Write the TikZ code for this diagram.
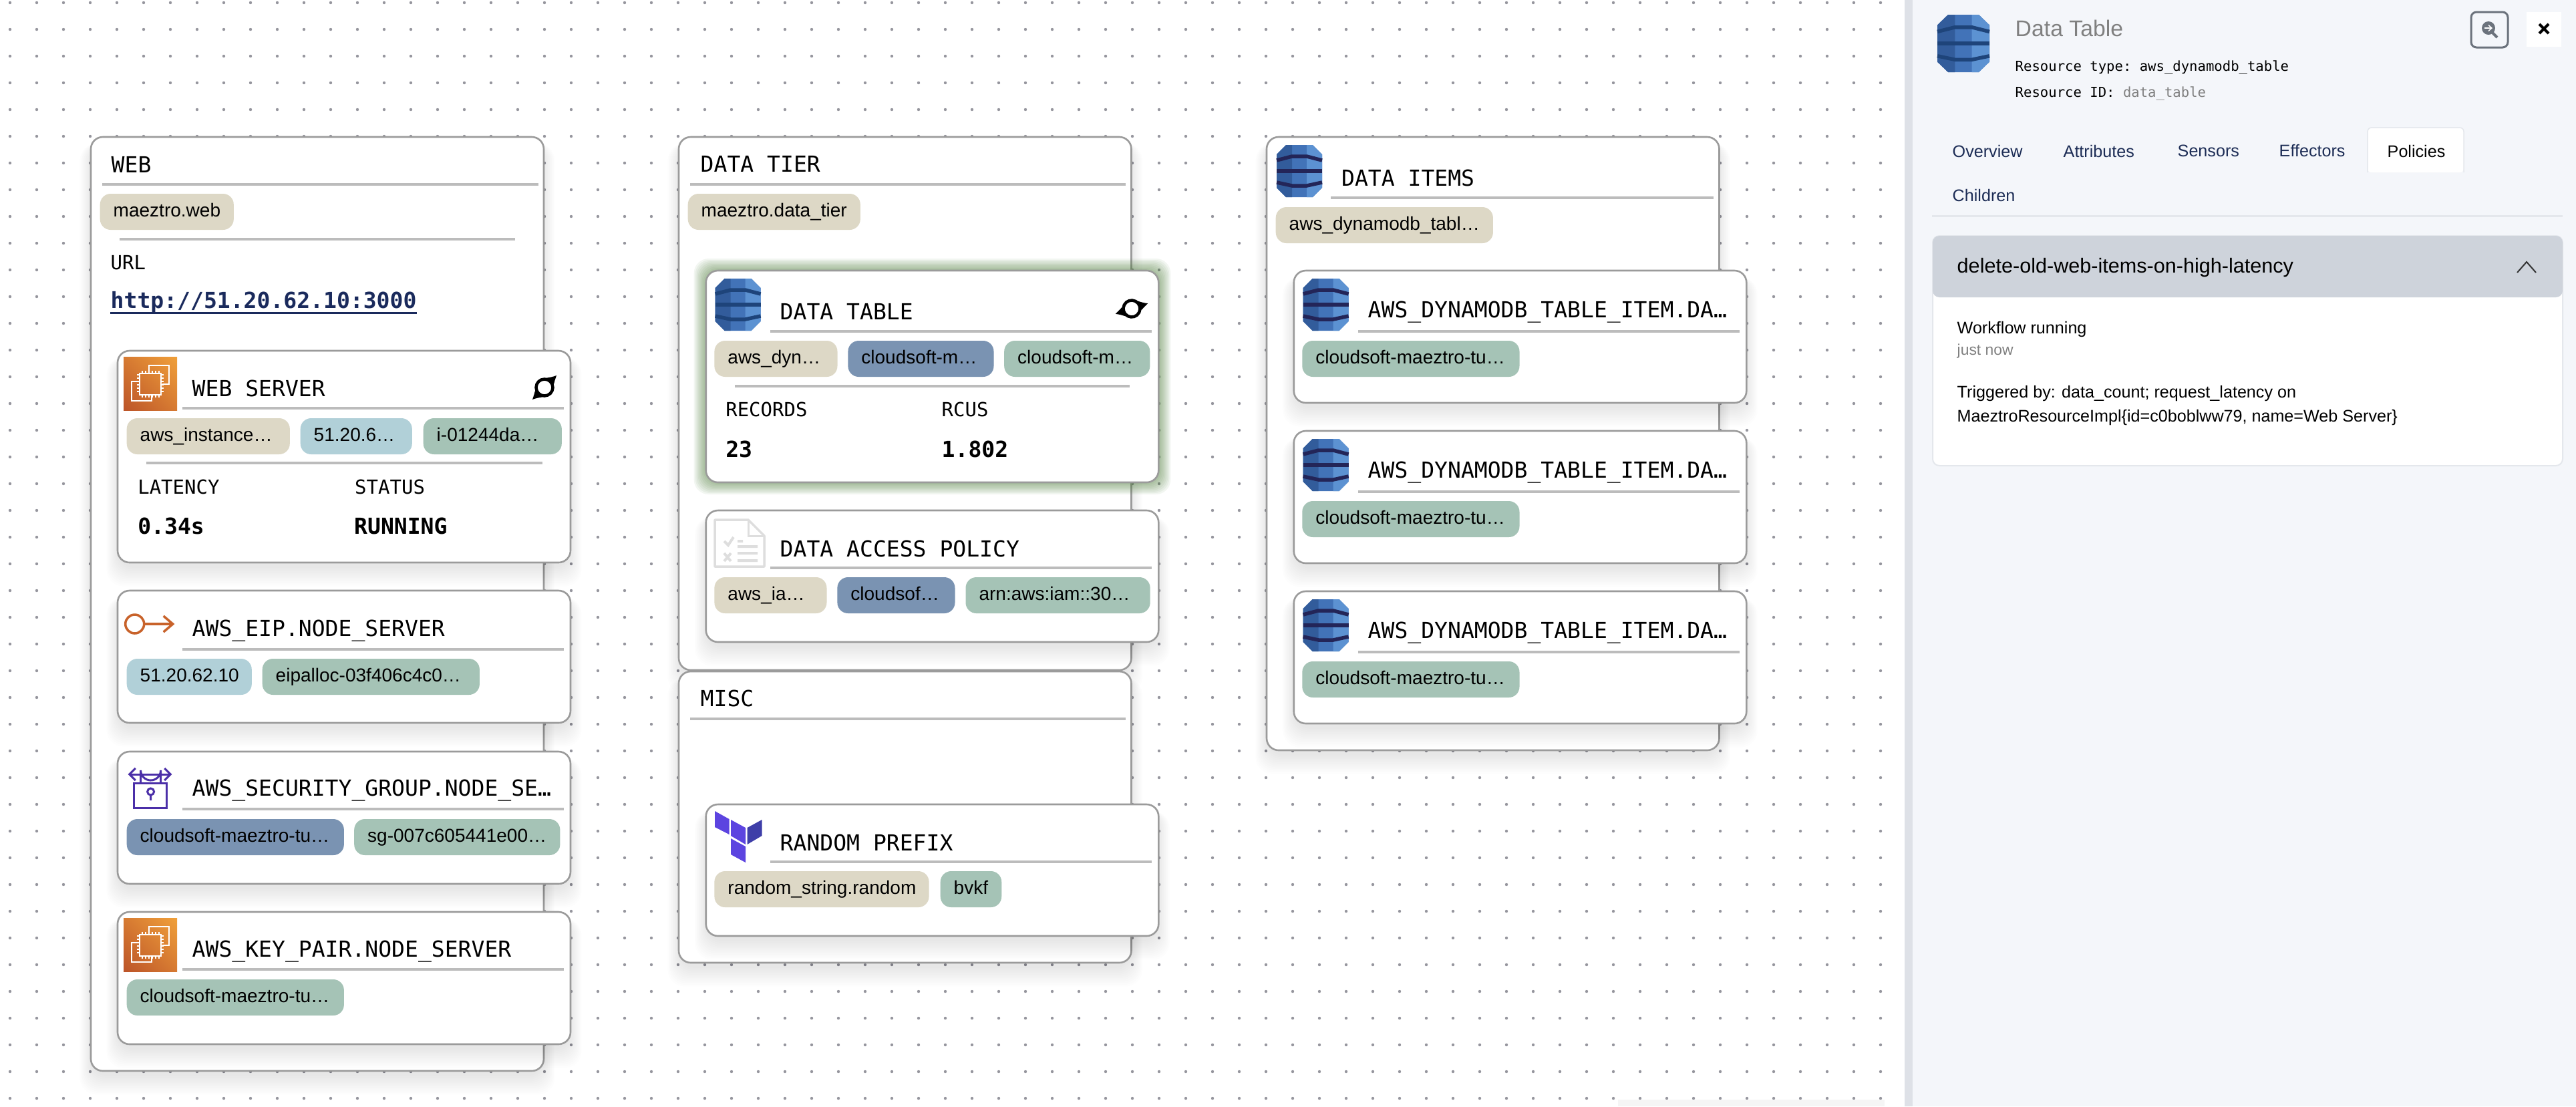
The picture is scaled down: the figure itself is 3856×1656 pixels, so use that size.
\documentclass[tikz,border=0pt]{standalone}
\usepackage{fontspec}
\setmainfont{Liberation Sans}
\setmonofont{DejaVu Sans Mono}
\usetikzlibrary{arrows.meta,calc,shadings}
\definecolor{ChipTan}{RGB}{221,216,198}
\definecolor{ChipBlue}{RGB}{177,208,216}
\definecolor{ChipSlate}{RGB}{122,147,178}
\definecolor{ChipGreen}{RGB}{165,195,182}
\definecolor{EdgeGray}{RGB}{155,155,155}
\definecolor{RuleGray}{RGB}{188,188,188}
\definecolor{DotGray}{RGB}{150,150,158}
\definecolor{PanelBg}{RGB}{244,246,250}
\definecolor{PanelStrip}{RGB}{222,225,231}
\definecolor{PanelHead}{RGB}{206,211,219}
\definecolor{PanelLine}{RGB}{228,231,236}
\definecolor{IconGray}{RGB}{107,114,124}
\definecolor{NavyText}{RGB}{28,44,85}
\definecolor{LinkNavy}{RGB}{26,42,92}
\definecolor{DbMid}{RGB}{66,115,184}
\definecolor{DbDark}{RGB}{50,92,155}
\definecolor{DbLight}{RGB}{92,146,210}
\definecolor{DbBand}{RGB}{35,37,88}
\definecolor{DbBandSoft}{RGB}{30,68,122}
\definecolor{KeyOrange}{RGB}{200,98,42}
\definecolor{LockPurple}{RGB}{75,47,168}
\definecolor{TfLight}{RGB}{92,68,224}
\definecolor{TfDark}{RGB}{62,62,168}
\definecolor{DocGray}{RGB}{222,222,222}
\definecolor{GlowGreen}{RGB}{70,120,50}
\definecolor{ChipRust}{RGB}{188,84,40}
\definecolor{ChipMid}{RGB}{214,122,50}
\definecolor{ChipAmber}{RGB}{240,160,58}
\tikzset{
  paneltitle/.style={anchor=west,inner sep=0pt,font=\ttfamily\fontsize{9.4}{11}\selectfont},
  smalllabel/.style={anchor=west,inner sep=0pt,font=\ttfamily\fontsize{8.25}{10}\selectfont},
  bigvalue/.style={anchor=west,inner sep=0pt,font=\ttfamily\bfseries\fontsize{9.4}{11}\selectfont},
  chip/.style={anchor=west,fill=#1,rounded corners=.16cm,inner xsep=.2cm,inner ysep=0pt,
    minimum height=.54cm,align=left,text height=.21cm,text depth=.06cm,
    font=\fontsize{7.97}{9.5}\selectfont},
  rule/.style={RuleGray,line width=.04cm},
  boxpanel/.style={draw=EdgeGray,fill=white,line width=.026cm,rounded corners=.18cm},
  sidetext/.style={anchor=west,inner sep=0pt,font=\fontsize{7.15}{9}\selectfont},
  sidemono/.style={anchor=west,inner sep=0pt,font=\ttfamily\fontsize{5.86}{7}\selectfont},
  pics/dbicon/.default=DbBand,
  pics/dbicon/.style={code={
    \fill[DbMid] (14,0) -- (54,0) -- (68,14) -- (68,64) -- (54,78) -- (14,78) -- (0,64) -- (0,14) -- cycle;
    \fill[DbDark] (14,0) -- (23,0) -- (23,78) -- (14,78) -- (0,64) -- (0,14) -- cycle;
    \fill[DbLight] (54,0) -- (45,0) -- (45,78) -- (54,78) -- (68,64) -- (68,14) -- cycle;
    \draw[#1,line width=.055cm] (0,23) -- (23,17) -- (45,17) -- (68,23);
    \draw[#1,line width=.055cm] (0,39) -- (68,39);
    \draw[#1,line width=.055cm] (0,56) -- (23,61) -- (45,61) -- (68,56);
  }},
  pics/ecicon/.style={code={
    \shade[lower left=ChipRust,upper right=ChipAmber,lower right=ChipMid,upper left=ChipMid] (0,0) rectangle (80,80);
    \draw[white,line width=.022cm] (38,23) -- (38,13) -- (68,13) -- (68,41) -- (58,41);
    \draw[white,line width=.022cm] (22,37) -- (12,37) -- (12,66) -- (42,66) -- (42,58);
    \draw[white,line width=.022cm] (24,25) rectangle (56,57);
    \foreach \t in {28,33,38,43,48,53} {
      \draw[white,line width=.014cm] (\t,21) -- (\t,25) (\t,57) -- (\t,61);
      \draw[white,line width=.014cm] (20,\t-1) -- (24,\t-1) (56,\t-1) -- (60,\t-1);
    }
  }},
  pics/spinicon/.style={code={
    \draw[black,line width=.045cm] (0,0) circle (12.5);
    \fill[black] (-9,-11) .. controls (0,-15) and (8,-14) .. (18,-18) .. controls (16,-12) and (15,-9) .. (14,-5) -- (6,-10) -- cycle;
    \fill[black] (9,11) .. controls (0,15) and (-8,14) .. (-18,18) .. controls (-16,12) and (-15,9) .. (-14,5) -- (-6,10) -- cycle;
  }}
}
% soft shadow under a box, made of stacked translucent boxes
\newcommand{\softshadow}[4]{%
  \foreach \g in {1,...,12} {
    \fill[black,opacity=.009,rounded corners=.25cm]
      ($(#1,#2)+(-18+1.5*\g,10)$) rectangle ($(#3,#4)+(18-1.5*\g,38-2.5*\g)$);
  }
}
% green glow round the selected box
\newcommand{\softglow}[4]{%
  \foreach \g in {1,...,10} {
    \fill[GlowGreen,opacity=.065,rounded corners=.22cm]
      ($(#1,#2)+(-20+2*\g,-20+2*\g)$) rectangle ($(#3,#4)+(20-2*\g,20-2*\g)$);
  }
}
\begin{document}
\begin{tikzpicture}[x=.01cm,y=-.01cm,>=Latex]
  \useasboundingbox (0,0) rectangle (3856,1656);
  \fill[white] (0,0) rectangle (3856,1656);
  % dotted canvas
  \foreach \i in {0,...,70} {
    \foreach \j in {0,...,41} {
      \fill[DotGray] ({15+40*\i},{4+40*\j}) circle (2.2);
    }
  }
  \fill[black!4] (2422,1646) rectangle (2821,1656);

  % web column
  \softshadow{136}{205}{814}{1603}
  \draw[boxpanel] (136,205) rectangle (814,1603);
  \node[paneltitle] (webname) at (166,246) {WEB};
  \draw[rule] (153,276) -- (805.5,276);
  \node[chip=ChipTan,text width=1.60cm] (webtag) at (149,317) {maeztro.web};
  \draw[rule] (179,358) -- (770.6,358);
  \node[smalllabel] (urllabel) at (165,393) {URL};
  \node[bigvalue,LinkNavy] (urlvalue) at (165,452) {http://51.20.62.10:3000};
  \draw[LinkNavy,line width=.03cm] (165,468) -- (624,468);

  \softshadow{176}{525}{854}{842}
  \draw[boxpanel] (176,525) rectangle (854,842);
  \pic at (185,534) {ecicon};
  \node[paneltitle] (servername) at (287,581) {WEB SERVER};
  \pic at (815,580) {spinicon};
  \draw[rule] (273.4,611) -- (844.4,611);
  \node[chip=ChipTan,text width=2.04cm] (servertype) at (189,653) {aws\_instance…};
  \node[chip=ChipBlue,text width=1.27cm] (serverip) at (449,653) {51.20.6…};
  \node[chip=ChipGreen,text width=1.67cm] (serverid) at (633,653) {i-01244da…};
  \draw[rule] (218.6,693) -- (811.5,693);
  \node[smalllabel] (latencylabel) at (205.6,729) {LATENCY};
  \node[smalllabel] (statuslabel) at (530.5,729) {STATUS};
  \node[bigvalue] (latencyvalue) at (205.6,787) {0.34s};
  \node[bigvalue] (statusvalue) at (529.5,787) {RUNNING};

  \softshadow{176}{884}{854}{1082}
  \draw[boxpanel] (176,884) rectangle (854,1082);
  \draw[KeyOrange,line width=.035cm] (201.7,934) circle (14);
  \draw[KeyOrange,line width=.035cm,-{Straight Barb[length=.14cm,width=.24cm]}] (215.7,934) -- (261.4,934);
  \node[paneltitle] (eipname) at (287,944) {AWS\_EIP.NODE\_SERVER};
  \draw[rule] (273.4,972) -- (844.4,972);
  \node[chip=ChipBlue,text width=1.47cm] (eipaddr) at (189,1013) {51.20.62.10};
  \node[chip=ChipGreen,text width=2.85cm] (eipalloc) at (392,1013) {eipalloc-03f406c4c0…};

  \softshadow{176}{1125}{854}{1323}
  \draw[boxpanel] (176,1125) rectangle (854,1323);
  \draw[LockPurple,line width=.03cm] (200.6,1172) rectangle (249.5,1209);
  \draw[LockPurple,line width=.03cm] (210.6,1172) -- (210.6,1153) arc[start angle=180,end angle=0,radius=15] -- (240.6,1172);
  \draw[LockPurple,line width=.03cm,{Straight Barb[length=.09cm,width=.18cm]}-{Straight Barb[length=.09cm,width=.18cm]}] (191.7,1159) -- (257.4,1159);
  \draw[LockPurple,line width=.03cm] (225.6,1185) circle (5) (225.6,1190) -- (225.6,1198);
  \node[paneltitle] (sgname) at (287,1183) {AWS\_SECURITY\_GROUP.NODE\_SE…};
  \draw[rule] (273.4,1211) -- (844.4,1211);
  \node[chip=ChipSlate,text width=2.85cm] (sgvpc) at (189,1253) {cloudsoft-maeztro-tu…};
  \node[chip=ChipGreen,text width=2.68cm] (sgid) at (529.5,1253) {sg-007c605441e00…};

  \softshadow{176}{1365}{854}{1563}
  \draw[boxpanel] (176,1365) rectangle (854,1563);
  \pic at (185,1374) {ecicon};
  \node[paneltitle] (keyname) at (287,1424) {AWS\_KEY\_PAIR.NODE\_SERVER};
  \draw[rule] (273.4,1451) -- (844.4,1451);
  \node[chip=ChipGreen,text width=2.85cm] (keyid) at (189,1493) {cloudsoft-maeztro-tu…};

  % data tier column
  \softshadow{1016}{205}{1693.5}{1003}
  \draw[boxpanel] (1016,205) rectangle (1693.5,1003);
  \node[paneltitle] (tiername) at (1048,245) {DATA TIER};
  \draw[rule] (1033,276) -- (1684.5,276);
  \node[chip=ChipTan,text width=2.18cm] (tiertag) at (1029,317) {maeztro.data\_tier};

  \softglow{1056.7}{405}{1734.3}{722}
  \draw[boxpanel] (1056.7,405) rectangle (1734.3,722);
  \pic at (1070.6,417) {dbicon=DbBandSoft};
  \node[paneltitle] (tablename) at (1167,466) {DATA TABLE};
  \pic[rotate=-27] at (1694,462) {spinicon};
  \draw[rule] (1153,496) -- (1724.4,496);
  \node[chip=ChipTan,text width=1.44cm] (tabletype) at (1068.7,537) {aws\_dyn…};
  \node[chip=ChipSlate,text width=1.78cm] (tablevpc) at (1268.7,537) {cloudsoft-m…};
  \node[chip=ChipGreen,text width=1.78cm] (tableid) at (1502.5,537) {cloudsoft-m…};
  \draw[rule] (1099.5,578) -- (1690.5,578);
  \node[smalllabel] (recordslabel) at (1085.6,613) {RECORDS};
  \node[smalllabel] (rcuslabel) at (1409,613) {RCUS};
  \node[bigvalue] (recordsvalue) at (1085.6,672) {23};
  \node[bigvalue] (rcusvalue) at (1409,672) {1.802};

  \softshadow{1056.7}{764}{1734.3}{961}
  \draw[boxpanel] (1056.7,764) rectangle (1734.3,961);
  \draw[DocGray,line width=.035cm,line join=round] (1070,778) -- (1120,778) -- (1144,802) -- (1144,848) -- (1070,848) -- cycle;
  \draw[DocGray,line width=.03cm] (1120,778) -- (1120,802) -- (1144,802);
  \draw[DocGray,line width=.04cm] (1084,810) -- (1090,816) -- (1098,804) (1104,810) -- (1112,810) (1084,828) -- (1094,840) (1094,828) -- (1084,840) (1104,818) -- (1134,818) (1104,828) -- (1134,828) (1104,839) -- (1134,839);
  \node[paneltitle] (policyname) at (1167,821) {DATA ACCESS POLICY};
  \draw[rule] (1153,850) -- (1724.4,850);
  \node[chip=ChipTan,text width=1.28cm] (policytype) at (1068.7,891) {aws\_ia…};
  \node[chip=ChipSlate,text width=1.36cm] (policyvpc) at (1252.7,891) {cloudsof…};
  \node[chip=ChipGreen,text width=2.36cm] (policyarn) at (1444.8,891) {arn:aws:iam::30…};

  % misc box
  \softshadow{1016}{1005}{1693.5}{1441}
  \draw[boxpanel] (1016,1005) rectangle (1693.5,1441);
  \node[paneltitle] (miscname) at (1048,1045) {MISC};
  \draw[rule] (1033,1076) -- (1684.5,1076);
  \softshadow{1056.7}{1204}{1734.3}{1401}
  \draw[boxpanel] (1056.7,1204) rectangle (1734.3,1401);
  \fill[TfLight] (1070,1214) -- (1091.5,1226) -- (1091.5,1249) -- (1070,1238) -- cycle;
  \fill[TfLight] (1094,1227) -- (1116,1239) -- (1116,1264) -- (1094,1251) -- cycle;
  \fill[TfLight] (1094,1255) -- (1116,1267) -- (1116,1291) -- (1094,1279) -- cycle;
  \fill[TfDark] (1118.5,1239) -- (1140.5,1227) -- (1140.5,1251) -- (1118.5,1264) -- cycle;
  \node[paneltitle] (randomname) at (1167,1261) {RANDOM PREFIX};
  \draw[rule] (1153,1290) -- (1724.4,1290);
  \node[chip=ChipTan,text width=2.81cm] (randomtype) at (1068.7,1331) {random\_string.random};
  \node[chip=ChipGreen,text width=.515cm] (randomid) at (1407,1331) {bvkf};

  % data items column
  \softshadow{1896}{205}{2573.5}{1123}
  \draw[boxpanel] (1896,205) rectangle (2573.5,1123);
  \pic at (1911,217) {dbicon};
  \node[paneltitle] (itemsname) at (2007.4,266) {DATA ITEMS};
  \draw[rule] (1992.4,296) -- (2564.6,296);
  \node[chip=ChipTan,text width=2.85cm] (itemstag) at (1909,337) {aws\_dynamodb\_tabl…};
  \foreach \n/\ytop in {1/405,2/645,3/885} {
    \softshadow{1936.7}{\ytop}{2614.3}{\ytop+198}
    \draw[boxpanel] (1936.7,\ytop) rectangle (2614.3,\ytop+198);
    \pic at (1950.6,\ytop+12) {dbicon};
    \node[paneltitle] (item\n name) at (2047,\ytop+62) {AWS\_DYNAMODB\_TABLE\_ITEM.DA…};
    \draw[rule] (2033,\ytop+91) -- (2604.4,\ytop+91);
    \node[chip=ChipGreen,text width=2.85cm] (item\n id) at (1948.6,\ytop+132) {cloudsoft-maeztro-tu…};
  }

  % side panel
  \fill[PanelStrip] (2851,0) rectangle (2863,1656);
  \fill[PanelBg] (2863,0) rectangle (3856,1656);
  \pic[xscale=1.147,yscale=1.103] at (2900,22) {dbicon=DbBandSoft};
  \node[anchor=west,inner sep=0pt,gray,font=\fontsize{9.6}{12}\selectfont] (sidetitle) at (3016,42) {Data Table};
  \node[sidemono] (sidetype) at (3016,101) {Resource type: aws\_dynamodb\_table};
  \node[sidemono] (sideid) at (3016,140) {Resource ID: \textcolor{gray}{data\_table}};
  \draw[IconGray,line width=.03cm,rounded corners=.08cm] (3699,18) rectangle (3754,71);
  \fill[IconGray] (3725,42) circle (10);
  \draw[IconGray,line width=.04cm] (3731,49) -- (3738,56);
  \draw[white,line width=.014cm,-{Straight Barb[length=.05cm,width=.09cm]}] (3719,42) -- (3731,42);
  \fill[white] (3782,18) rectangle (3834,70);
  \draw[black,line width=.04cm] (3801,36) -- (3815,50) (3815,36) -- (3801,50);

  \node[sidetext,NavyText] (taboverview) at (2922,226) {Overview};
  \node[sidetext,NavyText] (tabattributes) at (3088,226) {Attributes};
  \node[sidetext,NavyText] (tabsensors) at (3259,226) {Sensors};
  \node[sidetext,NavyText] (tabeffectors) at (3411,226) {Effectors};
  \fill[white,rounded corners=.06cm] (3544,258) -- (3544,191) -- (3688,191) -- (3688,258) -- cycle;
  \draw[PanelLine,line width=.015cm,rounded corners=.06cm] (3544,258) -- (3544,191) -- (3688,191) -- (3688,258);
  \node[sidetext] (tabpolicies) at (3573,226) {Policies};
  \node[sidetext,NavyText] (tabchildren) at (2922,292) {Children};
  \draw[PanelLine,line width=.03cm] (2892,323) -- (3836,323);

  \draw[PanelLine,fill=white,line width=.02cm,rounded corners=.1cm] (2893,353) rectangle (3836,697);
  \fill[PanelHead,rounded corners=.1cm] (2893,445) -- (2893,353) -- (3836,353) -- (3836,445) -- cycle;
  \node[anchor=west,inner sep=0pt,font=\fontsize{8.7}{10}\selectfont] (policytitle) at (2929,401) {delete-old-web-items-on-high-latency};
  \draw[black!80,line width=.02cm] (3768,408) -- (3782,392) -- (3796,408);
  \node[sidetext] (runstate) at (2929,493) {Workflow running};
  \node[anchor=west,inner sep=0pt,gray,font=\fontsize{6.5}{8}\selectfont] (runtime) at (2929,526) {just now};
  \node[sidetext] (triggerone) at (2929,589) {Triggered by: data\_count; request\_latency on};
  \node[sidetext] (triggertwo) at (2929,625) {MaeztroResourceImpl\{id=c0boblww79, name=Web Server\}};
\end{tikzpicture}
\end{document}
